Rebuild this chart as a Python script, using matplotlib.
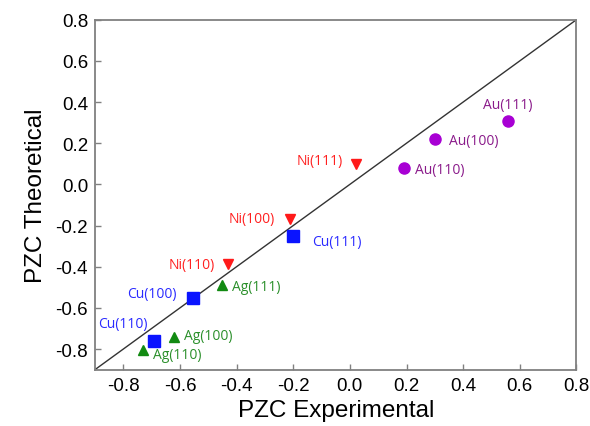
import matplotlib.pyplot as plt

# PZC values (V)
au_labels = ['Au(111)', 'Au(100)', 'Au(110)']
au_exp = [0.56, 0.30, 0.19]
au_theo = [0.31, 0.22, 0.08]

ni_labels = ['Ni(111)', 'Ni(100)', 'Ni(110)']
ni_exp = [0.02, -0.21, -0.43]
ni_theo = [0.10, -0.17, -0.385]

cu_labels = ['Cu(111)', 'Cu(100)', 'Cu(110)']
cu_exp = [-0.20, -0.555, -0.69]
cu_theo = [-0.25, -0.55, -0.76]

ag_labels = ['Ag(111)', 'Ag(100)', 'Ag(110)']
ag_exp = [-0.45, -0.62, -0.73]
ag_theo = [-0.49, -0.74, -0.805]

ticks = [-0.8, -0.6, -0.4, -0.2, 0.0, 0.2, 0.4, 0.6, 0.8]
lims = [-0.9, 0.8]

# label offsets in pixels (dx, dy, ha)
au_off = [(-1, 16, 'center'), (14, -1, 'left'), (11, -2, 'left')]
ni_off = [(-13, 3, 'right'), (-16, 1, 'right'), (-13, -1, 'right')]
cu_off = [(19, -6, 'left'), (-16, 4, 'right'), (-7, 17, 'right')]
ag_off = [(10, -1, 'left'), (10, 1, 'left'), (10, -4, 'left')]

series = [
    (au_labels, au_exp, au_theo, au_off, 'o', 8, '#a800d4', '#8a1a8a'),
    (ni_labels, ni_exp, ni_theo, ni_off, 'v', 7, '#ff1a1a', '#ff2020'),
    (cu_labels, cu_exp, cu_theo, cu_off, 's', 8, '#0a14ff', '#2a2aff'),
    (ag_labels, ag_exp, ag_theo, ag_off, '^', 7, '#128a12', '#2a8f2a'),
]

plt.rcParams['font.family'] = ['Liberation Sans', 'DejaVu Sans']

fig = plt.figure(figsize=(5.9, 4.27), dpi=100)
ax = fig.add_axes([0.161, 0.132, 0.816, 0.8195])

ax.plot(lims, lims, color='#333333', lw=1.0, zorder=1)

for labels, xs, ys, offs, mk, ms, mcol, tcol in series:
    ax.plot(xs, ys, ls='none', marker=mk, ms=ms, color=mcol, zorder=3)
    for lab, x, y, (dx, dy, ha) in zip(labels, xs, ys, offs):
        ax.annotate(lab, (x, y), xytext=(dx, dy), textcoords='offset pixels',
                    ha=ha, va='center', fontsize=10, color=tcol,
                    family=['Open Sans', 'DejaVu Sans'])

ax.set_xlim(lims)
ax.set_ylim(lims)
ax.set_xticks(ticks)
ax.set_yticks(ticks)
ax.set_xticklabels([f'{t:.1f}' for t in ticks])
ax.set_yticklabels([f'{t:.1f}' for t in ticks])
ax.tick_params(direction='in', length=4, width=1, color='#808080',
               labelsize=13.5, pad=5)

for s in ax.spines.values():
    s.set_color('#808080')
    s.set_linewidth(1.3)

ax.set_xlabel('PZC Experimental', fontsize=17.5, labelpad=4)
ax.set_ylabel('PZC Theoretical', fontsize=17.5, labelpad=6)

fig.savefig('out.png', dpi=100)
